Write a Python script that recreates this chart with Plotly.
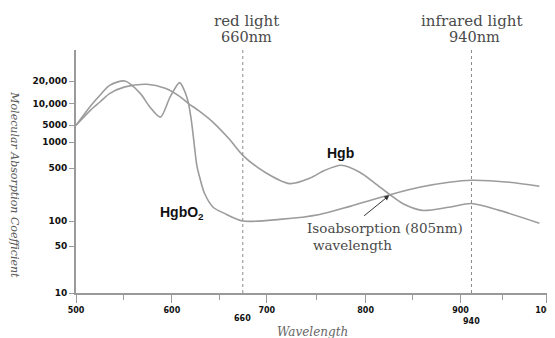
import numpy as np
import plotly.graph_objects as go

# ---- data ----
hbo2_wavelength = [500, 515, 525, 535, 551, 567, 577, 588, 598, 608, 613, 617, 620, 622, 624, 626,
                   629, 634, 643, 652, 660, 713, 753, 784, 826, 857, 888, 940, 958, 992]
hbo2_value = [5000, 9200, 12900, 17500, 20000, 13700, 9000, 6500, 12100, 19000, 15000, 10500, 6250,
              2340, 805, 538, 377, 232, 152, 126, 100, 105, 122, 156, 222, 278, 324, 344, 324, 287]

hb_wavelength = [500, 515, 525, 535, 551, 574, 593, 608, 617, 629, 643, 654, 660, 697, 723, 743,
                 758, 775, 794, 810, 826, 841, 860, 888, 940, 949, 992]
hb_value = [5000, 8070, 10500, 13600, 16700, 18100, 16000, 12500, 10100, 7800, 5500, 1390, 704, 439,
            311, 366, 464, 538, 439, 314, 222, 166, 138, 152, 170, 138, 94]

x_major_ticks = [500, 600, 700, 800, 900, 1000]
x_minor_ticks = [550, 650, 750, 850, 950]
y_tick_values = [10, 50, 100, 500, 1000, 5000, 10000, 20000]
y_tick_labels = ["10", "50", "100", "500", "1000", "5000", "10,000", "20,000"]
marker_wavelengths = [660, 940]
isoabsorption = (826, 222)

# ---- the chart's own (non-uniform) scales ----
X_SCALE_NM = [500, 550, 600, 650, 660, 700, 750, 800, 850, 900, 940, 950, 1000]
X_SCALE_POS = [0, 48, 96, 144, 167, 191, 241, 290, 337, 385, 396, 427, 471]
Y_SCALE_POS = [0, 47, 72, 125, 150.7, 167.7, 189.4, 212]
X_SPAN, Y_SPAN = 471.6, 243.0


def fx(w):
    return np.interp(w, X_SCALE_NM, X_SCALE_POS)


def fy(v):
    return np.interp(np.log10(v), np.log10(y_tick_values), Y_SCALE_POS)


def px(u):  # axis units -> paper fraction
    return float(u) / X_SPAN


def py(v):
    return float(v) / Y_SPAN


CURVE = "#9c9c9c"
AXIS = "#9a9a9a"
TXT = "#4a4a4a"

fig = go.Figure()
fig.add_trace(go.Scatter(x=fx(hbo2_wavelength), y=fy(hbo2_value), mode="lines",
                         line=dict(color=CURVE, width=1.6, shape="spline", smoothing=0.8),
                         name="HgbO2", showlegend=False, hoverinfo="skip"))
fig.add_trace(go.Scatter(x=fx(hb_wavelength), y=fy(hb_value), mode="lines",
                         line=dict(color=CURVE, width=1.6, shape="spline", smoothing=0.8),
                         name="Hgb", showlegend=False, hoverinfo="skip"))

# vertical marker lines
for w in marker_wavelengths:
    fig.add_shape(type="line", x0=fx(w), x1=fx(w), y0=-18 if w == 660 else 0, y1=245,
                  xref="x", yref="y", line=dict(color="#8a8a8a", width=1, dash="dot"))
fig.add_shape(type="line", x0=fx(940), x1=fx(940), y0=0, y1=-22, xref="x", yref="y",
              line=dict(color=AXIS, width=1.2))

serif = "DejaVu Serif"
ann = []
ann.append(dict(x=px(fx(660) + 4), y=py(272), text="red light", font=dict(family=serif, size=15, color=TXT)))
ann.append(dict(x=px(fx(660) + 4), y=py(256), text="660nm", font=dict(family=serif, size=14.5, color=TXT)))
ann.append(dict(x=px(fx(940)), y=py(272), text="infrared light", font=dict(family=serif, size=15, color=TXT)))
ann.append(dict(x=px(fx(940) + 3), y=py(256), text="940nm", font=dict(family=serif, size=14.5, color=TXT)))
ann.append(dict(x=px(fx(660)), y=py(-25.5), text="660",
                font=dict(family="DejaVu Sans", size=8, color="#111", weight="bold")))
ann.append(dict(x=px(fx(940)), y=py(-28.5), text="940",
                font=dict(family="DejaVu Sans", size=8, color="#111", weight="bold")))
ann.append(dict(x=px(264.5), y=py(139.7), text="Hgb",
                font=dict(family="Liberation Sans", size=14, color="#111", weight="bold")))
ann.append(dict(x=px(106.5), y=py(80.5), text="HgbO<sub>2</sub>",
                font=dict(family="Liberation Sans", size=14, color="#111", weight="bold")))
ann.append(dict(x=px(230), y=py(65.5), text="Isoabsorption (805nm)", xanchor="left",
                font=dict(family=serif, size=13.5, color=TXT)))
ann.append(dict(x=px(236), y=py(48.5), text="wavelength", xanchor="left",
                font=dict(family=serif, size=13.5, color=TXT)))
ann.append(dict(x=px(237), y=py(-38.5), text="Wavelength",
                font=dict(family=serif, size=12, color="#666", style="italic")))
ann.append(dict(x=px(-61), y=py(108.7), text="Molecular Absorption Coefficient", textangle=90,
                font=dict(family=serif, size=11, color="#555", style="italic")))
for a in ann:
    a.setdefault("xanchor", "center")
    a.update(xref="paper", yref="paper", yanchor="middle", showarrow=False, borderpad=0)
# arrow to isoabsorption point
ann.append(dict(x=fx(isoabsorption[0]), y=fy(isoabsorption[1]), ax=287, ay=76,
                xref="x", yref="y", axref="x", ayref="y", showarrow=True, text="",
                arrowhead=2, arrowsize=1, arrowwidth=1, arrowcolor="#333", standoff=1))
fig.update_layout(annotations=ann)

fig.update_xaxes(range=[0, X_SPAN], tickmode="array", tickvals=fx(x_major_ticks),
                 ticktext=[str(t) for t in x_major_ticks], ticks="outside", ticklen=8,
                 tickcolor=AXIS, tickwidth=1.2, showline=True, linecolor=AXIS, linewidth=2,
                 showgrid=False, zeroline=False, automargin=False, ticklabeloverflow="allow",
                 tickfont=dict(family="DejaVu Sans", size=8, color="#111", weight="bold"),
                 minor=dict(tickmode="array", tickvals=fx(x_minor_ticks), ticks="outside",
                            ticklen=5, tickcolor=AXIS, showgrid=False))
fig.update_yaxes(range=[0, Y_SPAN], tickmode="array", tickvals=fy(y_tick_values),
                 ticktext=y_tick_labels, ticks="outside", ticklen=5, tickcolor=AXIS,
                 tickwidth=1.2, showline=True, linecolor=AXIS, linewidth=2,
                 showgrid=False, zeroline=False, automargin=False,
                 tickfont=dict(family="DejaVu Sans", size=9, color="#111", weight="bold"))

# page body has an 8px margin, so the figure is sized/offset to compensate
fig.update_layout(width=547, height=330, autosize=False,
                  margin=dict(l=68, r=8, t=42, b=45),
                  paper_bgcolor="white", plot_bgcolor="white", showlegend=False)

fig.write_html("out.html")
